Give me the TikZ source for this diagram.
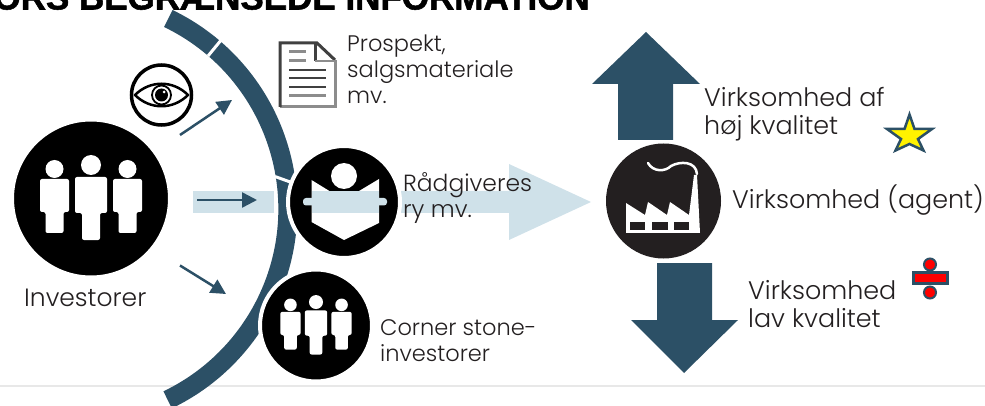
\documentclass[tikz,border=0pt]{standalone}
\usepackage{fontspec}
\setmainfont{Poppins Light}
\newfontfamily\titlefont[BoldFeatures={FakeBold=1.5}]{Liberation Sans}
\usetikzlibrary{arrows.meta,shapes.geometric}
\definecolor{petrol}{HTML}{2C5066}
\definecolor{lightpetrol}{HTML}{CFE1E9}
\definecolor{soot}{HTML}{231F20}
\tikzset{
	disc/.style={circle, fill=black, draw=white, line width=4, inner sep=0},
	lbl/.style={anchor=base west, align=left, inner sep=0, text=soot, font=\fontsize{22.5}{26}\selectfont},
	lblbig/.style={lbl, font=\fontsize{25.4}{28}\selectfont},
	thinarrow/.style={draw=petrol, line width=2.5, -{Triangle[length=15,width=15]}},
	doclines/.style={line width=#1, color=black!45}
}
\def\personfig(#1)[#2]{
	\begin{scope}[shift={(#1)},scale=#2]
		\foreach \px/\hy/\hr/\ty/\hw/\sy/\by in {-36.5/-29.5/9/-19.5/14.5/13.5/34.5, 36.5/-29.5/9/-19.5/14.5/13.5/34.5, 0/-33.5/10/-21.5/16/14.5/41.5}{
			\fill[white] (\px,\hy) circle (\hr);
			\fill[white, rounded corners=2] ({\px-\hw},\ty) -- ({\px+\hw},\ty) -- ({\px+\hw},\sy) -- ({\px+9},\sy) -- ({\px+9},\by) -- ({\px-9},\by) -- ({\px-9},\sy) -- ({\px-\hw},\sy) -- cycle;
		}
	\end{scope}
}

\begin{document}
\begin{tikzpicture}[x=1pt, y=-1pt]
		%%%%% START %%%%%
		\useasboundingbox (0,0) rectangle (985,406);
		\clip (0,0) rectangle (985,406);
		
		\node[anchor=base east, inner sep=0, font=\titlefont\bfseries\fontsize{35}{35}\selectfont] (title) at (590,9.5) {ORS BEGRÆNSEDE INFORMATION};
		\draw[line width=1.5, color=black!9] (0,386) -- (985,386);
		
		% arc and the gaps in it
		\draw[line width=19, color=petrol] (168.3,18.5) arc (-64.2:64.4:211.6);
		\draw[line width=3, color=white] (222,39) -- (208,56);
		\draw[line width=3, color=white] (275,176.5) -- (293,183);
		
		% light arrows
		\fill[lightpetrol] (193,191) rectangle (274,213);
		\fill[lightpetrol] (340,191) -- (509,191) -- (509,164) -- (591,202) -- (509,240) -- (509,213) -- (340,213) -- cycle;
		
		% investors
		\node[disc, minimum size=158] (investor) at (91,198.5) {};
		\personfig(91,198.5)[1]
		\node[lblbig, font=\fontsize{25}{28}\selectfont] (investorlbl) at (24,306) {Investorer};
		
		% eye
		\node[circle, draw=black, line width=3.5, fill=white, minimum size=60, inner sep=0] (eye) at (161.5,95) {};
		\draw[line width=2.5, line join=round] (135,95) .. controls (150,80) and (173,80) .. (188,95) .. controls (173,110) and (150,110) .. (135,95) -- cycle;
		\draw[line width=1.8] (161.5,95) circle (9.5);
		\fill[black] (161.5,95) circle (6.5);
		\fill[white] (164,92) circle (1.5);
		
		% thin arrows
		\coordinate (eyefrom) at (180,135);
		\coordinate (eyeto) at (232,100);
		\coordinate (bandfrom) at (197,200);
		\coordinate (bandto) at (257,200);
		\coordinate (lowfrom) at (180,265.5);
		\coordinate (lowto) at (226,294);
		\draw[thinarrow] (eyefrom) -- (eyeto);
		\draw[thinarrow] (bandfrom) -- (bandto);
		\draw[thinarrow] (lowfrom) -- (lowto);
		
		% document
		\draw[line width=3, color=black!45] (335,60) -- (335,107) -- (280,107);
		\draw[line width=3, color=black!75] (280,107) -- (280,43) -- (317,43) -- (335,60);
		\draw[line width=3, color=black!75] (315,43) -- (315,61);
		\draw[line width=2.5, color=black!45] (315,61) -- (335,61);
		\draw[doclines=3] (289,52) -- (306,52);
		\draw[doclines=3] (289,61) -- (306,61);
		\draw[line width=1.5, color=black!75] (289,70) -- (326,70);
		\draw[line width=2.2, color=black!75] (289,78) -- (326,78);
		\draw[line width=2.2, color=black!75] (289,87) -- (326,87);
		\draw[doclines=3] (289,96) -- (326,96);
		\node[lbl] (prospekt) at (347,104) {Prospekt,\\salgsmateriale\\mv.};
		
		% advisers
		\node[disc, minimum size=112] (advisor) at (344,202) {};
		\fill[white] (311.5,180) -- (344,200) -- (379,179) -- (379,223) -- (344,240) -- (311.5,222) -- cycle;
		\fill[lightpetrol] (311.5,191) rectangle (379,213);
		\fill[lightpetrol, rounded corners=3] (303,198) rectangle (387,205.5);
		\fill[white] (344,176) circle (13);
		\node[lbl, font=\fontsize{23.4}{26}\selectfont] (raadgiver) at (403,218) {Rådgiveres\\ry mv.};
		
		% corner stone investors
		\node[disc, minimum size=112] (cornerstone) at (316,325.5) {};
		\personfig(316,325.5)[0.7]
		\node[lbl] (cornerlbl) at (380,361) {Corner stone-\\investorer};
		
		% big arrows
		\fill[petrol] (646,32) -- (700,84) -- (673,84) -- (673,140) -- (618,140) -- (618,84) -- (592,84) -- cycle;
		\fill[petrol] (684,373) -- (738,320) -- (712,320) -- (712,263) -- (657,263) -- (657,320) -- (631,320) -- cycle;
		
		% factory
		\node[circle, fill=soot, minimum size=115, inner sep=0] (factory) at (663.5,201) {};
		\fill[white] (626,203) -- (645,215) -- (648,202) -- (667,215) -- (670,202) -- (689,215) -- (694,175) -- (697,175) -- (700,233) -- (626,233) -- cycle;
		\fill[soot] (630,222) rectangle (645,230);
		\fill[soot] (652,222) rectangle (668,230);
		\fill[soot] (674,222) rectangle (689,230);
		\draw[line width=2.5, color=white, line cap=round] (648,163) .. controls (653,172) and (665,172) .. (671,166) .. controls (680,161) and (696,161) .. (697,174);
		
		\node[lblbig] (hoj) at (704,135) {Virksomhed af\\høj kvalitet};
		\node[lblbig] (agent) at (732,209) {Virksomhed (agent)};
		\node[lblbig] (lav) at (748,327) {Virksomhed\\lav kvalitet};
		
		% star and divider
		\draw[fill=yellow, draw=petrol, line width=2.5, miter limit=10] (909.5,114.5) -- (914.5,129) -- (932,129) -- (918,139) -- (923.5,150.5) -- (909.5,144) -- (895.5,150.5) -- (901,139) -- (887,129) -- (904.5,129) -- cycle;
		\draw[line width=2, color=petrol, fill=red] (930,264.5) circle (6);
		\draw[line width=2, color=petrol, fill=red] (930,292.5) circle (6);
		\draw[line width=2.5, color=petrol, fill=red] (913.3,272.3) rectangle (947.7,283.7);
		
		%%%%% END %%%%%
	\end{tikzpicture}
\end{document}
